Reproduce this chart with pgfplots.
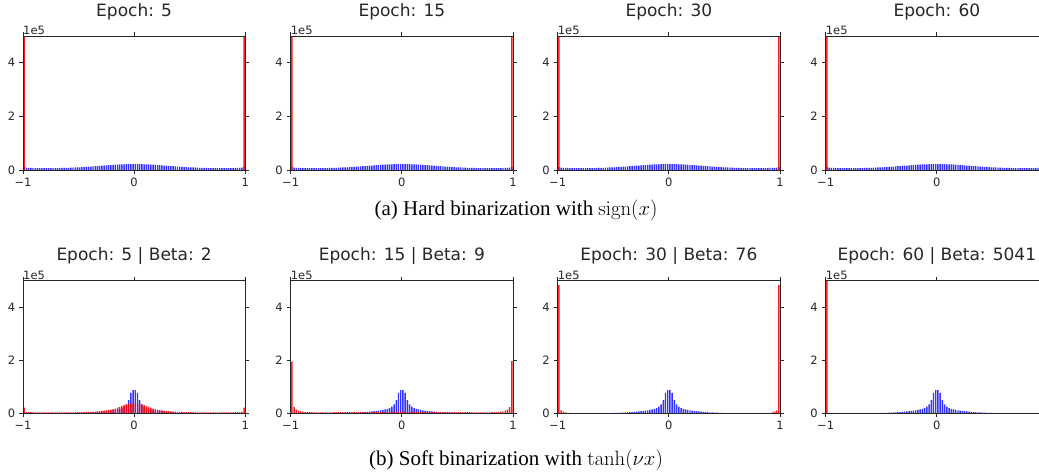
\documentclass[border=0pt]{standalone}
\usepackage[no-math]{fontspec}
\setmainfont{DejaVu Sans}
\newfontfamily\capfont{Liberation Serif}
\usepackage{pgfplots}
\usepackage{pgfplotstable}
\pgfplotsset{compat=1.18}

% top row: weight histogram (units of 1e5)
\pgfplotstableread{
x y
-0.99 0.105
-0.97 0.090
-0.95 0.083
-0.93 0.078
-0.91 0.075
-0.89 0.072
-0.87 0.070
-0.85 0.068
-0.83 0.067
-0.81 0.066
-0.79 0.066
-0.77 0.066
-0.75 0.067
-0.73 0.068
-0.71 0.070
-0.69 0.071
-0.67 0.073
-0.65 0.075
-0.63 0.078
-0.61 0.080
-0.59 0.083
-0.57 0.086
-0.55 0.090
-0.53 0.094
-0.51 0.098
-0.49 0.102
-0.47 0.107
-0.45 0.112
-0.43 0.117
-0.41 0.123
-0.39 0.129
-0.37 0.135
-0.35 0.141
-0.33 0.147
-0.31 0.154
-0.29 0.160
-0.27 0.167
-0.25 0.173
-0.23 0.179
-0.21 0.185
-0.19 0.191
-0.17 0.196
-0.15 0.201
-0.13 0.206
-0.11 0.210
-0.09 0.213
-0.07 0.216
-0.05 0.218
-0.03 0.219
-0.01 0.220
0.01 0.220
0.03 0.219
0.05 0.218
0.07 0.216
0.09 0.213
0.11 0.210
0.13 0.206
0.15 0.201
0.17 0.196
0.19 0.191
0.21 0.185
0.23 0.179
0.25 0.173
0.27 0.167
0.29 0.160
0.31 0.154
0.33 0.147
0.35 0.141
0.37 0.135
0.39 0.129
0.41 0.123
0.43 0.117
0.45 0.112
0.47 0.107
0.49 0.102
0.51 0.098
0.53 0.094
0.55 0.090
0.57 0.086
0.59 0.083
0.61 0.080
0.63 0.078
0.65 0.075
0.67 0.073
0.69 0.071
0.71 0.070
0.73 0.068
0.75 0.067
0.77 0.066
0.79 0.066
0.81 0.066
0.83 0.067
0.85 0.068
0.87 0.070
0.89 0.072
0.91 0.075
0.93 0.078
0.95 0.083
0.97 0.090
0.99 0.105
}\tb

% top row: sign(x)
\pgfplotstableread{
x y
-0.99 6.5
0.99 6.5
}\rtop

% bottom row: weight histogram
\pgfplotstableread{
x y
-0.65 0.001
-0.63 0.0015
-0.61 0.002
-0.59 0.003
-0.57 0.004
-0.55 0.006
-0.53 0.008
-0.51 0.010
-0.49 0.013
-0.47 0.016
-0.45 0.019
-0.43 0.023
-0.41 0.027
-0.39 0.031
-0.37 0.036
-0.35 0.042
-0.33 0.048
-0.31 0.055
-0.29 0.062
-0.27 0.070
-0.25 0.080
-0.23 0.090
-0.21 0.100
-0.19 0.115
-0.17 0.130
-0.15 0.150
-0.13 0.170
-0.11 0.200
-0.09 0.250
-0.07 0.340
-0.05 0.500
-0.03 0.770
-0.01 0.870
0.01 0.870
0.03 0.770
0.05 0.500
0.07 0.340
0.09 0.250
0.11 0.200
0.13 0.170
0.15 0.150
0.17 0.130
0.19 0.115
0.21 0.100
0.23 0.090
0.25 0.080
0.27 0.070
0.29 0.062
0.31 0.055
0.33 0.048
0.35 0.042
0.37 0.036
0.39 0.031
0.41 0.027
0.43 0.023
0.45 0.019
0.47 0.016
0.49 0.013
0.51 0.010
0.53 0.008
0.55 0.006
0.57 0.004
0.59 0.003
0.61 0.002
0.63 0.0015
0.65 0.001
}\bb

% tanh, beta 2
\pgfplotstableread{
x y
-0.99 0.210
-0.97 0.050
-0.95 0.045
-0.93 0.042
-0.91 0.040
-0.89 0.039
-0.87 0.038
-0.85 0.037
-0.83 0.036
-0.81 0.036
-0.79 0.035
-0.77 0.035
-0.75 0.035
-0.73 0.035
-0.71 0.035
-0.69 0.035
-0.67 0.035
-0.65 0.035
-0.63 0.036
-0.61 0.036
-0.59 0.037
-0.57 0.038
-0.55 0.039
-0.53 0.040
-0.51 0.041
-0.49 0.043
-0.47 0.045
-0.45 0.047
-0.43 0.050
-0.41 0.054
-0.39 0.058
-0.37 0.063
-0.35 0.068
-0.33 0.075
-0.31 0.082
-0.29 0.090
-0.27 0.100
-0.25 0.110
-0.23 0.125
-0.21 0.140
-0.19 0.160
-0.17 0.180
-0.15 0.210
-0.13 0.240
-0.11 0.270
-0.09 0.310
-0.07 0.340
-0.05 0.360
-0.03 0.370
-0.01 0.370
0.01 0.370
0.03 0.370
0.05 0.360
0.07 0.340
0.09 0.310
0.11 0.270
0.13 0.240
0.15 0.210
0.17 0.180
0.19 0.160
0.21 0.140
0.23 0.125
0.25 0.110
0.27 0.100
0.29 0.090
0.31 0.082
0.33 0.075
0.35 0.068
0.37 0.063
0.39 0.058
0.41 0.054
0.43 0.050
0.45 0.047
0.47 0.045
0.49 0.043
0.51 0.041
0.53 0.040
0.55 0.039
0.57 0.038
0.59 0.037
0.61 0.036
0.63 0.036
0.65 0.035
0.67 0.035
0.69 0.035
0.71 0.035
0.73 0.035
0.75 0.035
0.77 0.035
0.79 0.035
0.81 0.036
0.83 0.036
0.85 0.037
0.87 0.038
0.89 0.039
0.91 0.040
0.93 0.042
0.95 0.045
0.97 0.050
0.99 0.210
}\rone

% tanh, beta 9
\pgfplotstableread{
x y
-0.99 1.950
-0.97 0.230
-0.95 0.140
-0.93 0.100
-0.91 0.076
-0.89 0.062
-0.87 0.053
-0.85 0.047
-0.83 0.043
-0.81 0.040
-0.79 0.038
-0.77 0.038
-0.75 0.038
-0.73 0.038
-0.71 0.038
-0.69 0.039
-0.67 0.039
-0.65 0.039
-0.63 0.039
-0.61 0.040
-0.59 0.040
-0.57 0.040
-0.55 0.040
-0.53 0.041
-0.51 0.041
-0.49 0.041
-0.47 0.041
-0.45 0.042
-0.43 0.042
-0.41 0.042
-0.39 0.042
-0.37 0.043
-0.35 0.043
-0.33 0.043
-0.31 0.043
-0.29 0.043
-0.27 0.043
-0.25 0.043
-0.23 0.043
-0.21 0.043
-0.19 0.044
-0.17 0.045
-0.15 0.046
-0.13 0.048
-0.11 0.050
-0.09 0.052
-0.07 0.055
-0.05 0.058
-0.03 0.060
-0.01 0.060
0.01 0.060
0.03 0.060
0.05 0.058
0.07 0.055
0.09 0.052
0.11 0.050
0.13 0.048
0.15 0.046
0.17 0.045
0.19 0.044
0.21 0.043
0.23 0.043
0.25 0.043
0.27 0.043
0.29 0.043
0.31 0.043
0.33 0.043
0.35 0.043
0.37 0.043
0.39 0.042
0.41 0.042
0.43 0.042
0.45 0.042
0.47 0.041
0.49 0.041
0.51 0.041
0.53 0.041
0.55 0.040
0.57 0.040
0.59 0.040
0.61 0.040
0.63 0.039
0.65 0.039
0.67 0.039
0.69 0.039
0.71 0.038
0.73 0.038
0.75 0.038
0.77 0.038
0.79 0.038
0.81 0.040
0.83 0.043
0.85 0.047
0.87 0.053
0.89 0.062
0.91 0.076
0.93 0.100
0.95 0.140
0.97 0.230
0.99 1.970
}\rtwo

% tanh, beta 76
\pgfplotstableread{
x y
-0.99 4.850
-0.97 0.110
-0.95 0.060
-0.93 0.035
-0.91 0.020
-0.89 0.012
-0.87 0.008
0.87 0.008
0.89 0.012
0.91 0.020
0.93 0.035
0.95 0.060
0.97 0.110
0.99 4.850
}\rthree

% tanh, beta 5041
\pgfplotstableread{
x y
-0.99 6.500
-0.97 0.020
0.97 0.020
0.99 6.500
}\rfour

\pgfplotsset{
  panel/.style={
    scale only axis, width=222.3pt,
    xmin=-1, xmax=1, ymin=0, ymax=5,
    xtick={-1,0,1}, xticklabels={−1,0,1},
    ytick={0,2,4}, yticklabels={0,2,4},
    tick align=outside, major tick length=3.85pt,
    tick style={black!85, line width=0.8pt},
    axis line style={black!85, line width=0.8pt},
    ticklabel style={font=\fontsize{11.5}{13}\selectfont, text=black!85, inner sep=0pt},
    xticklabel style={yshift=-3.85pt},
    yticklabel style={xshift=-3.85pt},
    title style={font=\fontsize{17}{20}\selectfont, text=black!85, at={(0.5,1)}, anchor=base},
    axis on top,
  },
  toprow/.style={panel, height=134pt, title style={yshift=13.3pt}},
  botrow/.style={panel, height=132.5pt, title style={yshift=14.3pt}},
  lastcol/.style={xticklabels={−1,0,{}}},
  hb/.style={ybar, bar width=0.013, bar shift=0pt, draw=none, fill=blue, fill opacity=0.8},
  hr/.style={ybar, bar width=0.013, bar shift=0pt, draw=none, fill=red, fill opacity=0.88},
}

\newcommand{\onefive}[1]{\node[anchor=base west, inner sep=0pt, yshift=1.5pt, font=\fontsize{11.5}{13}\selectfont, text=black!85] at (#1.north west) {1e5};}

\begin{document}
\begin{tikzpicture}
\useasboundingbox (0pt,0pt) rectangle (1039pt,472pt);
\clip (0pt,0pt) rectangle (1039pt,472pt);

% ---- top row ----
\begin{axis}[toprow, name=a1, at={(23pt,302pt)}, anchor=south west, title={Epoch: 5}]
\addplot[hb] table {\tb};
\addplot[hr] table {\rtop};
\end{axis}
\begin{axis}[toprow, name=a2, at={(290.7pt,302pt)}, anchor=south west, title={Epoch: 15}]
\addplot[hb] table {\tb};
\addplot[hr] table {\rtop};
\end{axis}
\begin{axis}[toprow, name=a3, at={(557.7pt,302pt)}, anchor=south west, title={Epoch: 30}]
\addplot[hb] table {\tb};
\addplot[hr] table {\rtop};
\end{axis}
\begin{axis}[toprow, lastcol, name=a4, at={(825.7pt,302pt)}, anchor=south west, title={Epoch: 60}]
\addplot[hb] table {\tb};
\addplot[hr] table {\rtop};
\end{axis}

% ---- bottom row ----
\begin{axis}[botrow, name=b1, at={(23pt,58.7pt)}, anchor=south west, title={Epoch: 5 | Beta: 2}]
\addplot[hb] table {\bb};
\addplot[hr] table {\rone};
\end{axis}
\begin{axis}[botrow, name=b2, at={(290.7pt,58.7pt)}, anchor=south west, title={Epoch: 15 | Beta: 9}]
\addplot[hb] table {\bb};
\addplot[hr] table {\rtwo};
\end{axis}
\begin{axis}[botrow, name=b3, at={(557.7pt,58.7pt)}, anchor=south west, title={Epoch: 30 | Beta: 76}]
\addplot[hb] table {\bb};
\addplot[hr] table {\rthree};
\end{axis}
\begin{axis}[botrow, lastcol, name=b4, at={(825.7pt,58.7pt)}, anchor=south west, title={Epoch: 60 | Beta: 5041}]
\addplot[hb] table {\bb};
\addplot[hr] table {\rfour};
\end{axis}

\onefive{a1}\onefive{a2}\onefive{a3}\onefive{a4}
\onefive{b1}\onefive{b2}\onefive{b3}\onefive{b4}

\node[anchor=base, inner sep=0pt, font=\fontsize{21}{25}\selectfont\capfont] at (516pt,256pt) {(a) Hard binarization with $\mathrm{sign}(x)$};
\node[anchor=base, inner sep=0pt, font=\fontsize{21}{25}\selectfont\capfont] at (516pt,7pt) {(b) Soft binarization with $\tanh(\nu x)$};
\end{tikzpicture}
\end{document}
